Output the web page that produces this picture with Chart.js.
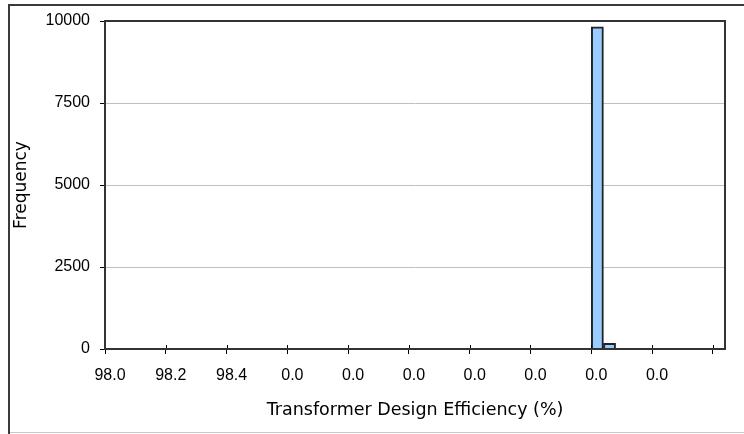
<!DOCTYPE html>
<html>
<head>
<meta charset="utf-8">
<script src="https://cdn.jsdelivr.net/npm/chart.js@4"></script>
<style>
  html, body { margin: 0; padding: 0; background: #fff; }
  canvas { display: block; }
</style>
</head>
<body>
<canvas id="histChart" width="744" height="434"></canvas>
<script>
// histogram bins (centre of each 0.04 wide bin) and their counts
const binCenters = [99.62, 99.66];
const frequencies = [9825, 175];

// x axis ticks and the labels Excel printed under them
const tickValues = [98.0, 98.2, 98.4, 98.6, 98.8, 99.0, 99.2, 99.4, 99.6, 99.8, 100.0];
const tickLabels = ['98.0', '98.2', '98.4', '0.0', '0.0', '0.0', '0.0', '0.0', '0.0', '0.0', ''];

const yTicks = [0, 2500, 5000, 7500, 10000];

const frames = {
    id: 'frames',
    beforeDraw(chart) {
        const ctx = chart.ctx;
        ctx.save();
        ctx.fillStyle = '#3a3a3a';
        ctx.fillRect(8, 4, chart.width - 8, 2);
        ctx.fillRect(8, 4, 2, chart.height - 4);
        ctx.fillStyle = '#c8c8c8';
        ctx.fillRect(10, chart.height - 2, chart.width - 10, 1);
        ctx.restore();
    },
    afterDraw(chart) {
        const ctx = chart.ctx;
        const area = chart.chartArea;
        const xScale = chart.scales.x;
        ctx.save();
        // tick marks poke into the plot a little
        ctx.strokeStyle = '#000';
        ctx.lineWidth = 1;
        xScale.ticks.forEach((t, i) => {
            const px = Math.round(xScale.getPixelForTick(i)) + 0.5;
            ctx.beginPath();
            ctx.moveTo(px, area.bottom - 4);
            ctx.lineTo(px, area.bottom);
            ctx.stroke();
        });
        ctx.strokeStyle = '#333';
        ctx.lineWidth = 2;
        ctx.strokeRect(area.left, area.top, area.right - area.left, area.bottom - area.top);
        ctx.restore();
    }
};

const ctx = document.getElementById('histChart').getContext('2d');
new Chart(ctx, {
    type: 'bar',
    data: {
        datasets: [{
            label: 'Frequency',
            data: binCenters.map((x, i) => ({ x: x, y: frequencies[i] })),
            backgroundColor: '#99ccff',
            borderColor: '#222',
            borderWidth: 2,
            barPercentage: 1,
            categoryPercentage: 1
        }]
    },
    options: {
        responsive: false,
        animation: false,
        devicePixelRatio: 1,
        layout: { padding: { left: 0, top: 21, right: 19, bottom: 0 } },
        plugins: {
            legend: { display: false },
            tooltip: { enabled: false }
        },
        scales: {
            x: {
                type: 'linear',
                offset: false,
                min: 98.0,
                max: 100.04,
                afterBuildTicks: scale => {
                    scale.ticks = tickValues.map(v => ({ value: v }));
                },
                afterFit: scale => { scale.height = 85; },
                grid: {
                    drawOnChartArea: false,
                    tickLength: 5,
                    tickColor: '#000',
                    offset: false
                },
                border: { color: '#000', width: 2 },
                ticks: {
                    autoSkip: false,
                    maxRotation: 0,
                    padding: 12,
                    labelOffset: 5,
                    color: '#000',
                    font: { family: 'Liberation Sans', size: 16 },
                    callback: (value, index) => tickLabels[index]
                },
                title: {
                    display: true,
                    text: 'Transformer Design Efficiency (%)',
                    color: '#000',
                    font: { family: 'DejaVu Sans', size: 17.5 },
                    padding: { top: 0, bottom: 13 }
                }
            },
            y: {
                min: 0,
                max: 10000,
                afterBuildTicks: scale => {
                    scale.ticks = yTicks.map(v => ({ value: v }));
                },
                afterFit: scale => { scale.width = 105; },
                grid: {
                    color: '#c0c0c0',
                    tickColor: '#000',
                    tickLength: 5
                },
                border: { color: '#000', width: 2 },
                ticks: {
                    padding: 10,
                    color: '#000',
                    font: { family: 'Liberation Sans', size: 16 },
                    callback: value => String(value)
                },
                title: {
                    display: true,
                    text: 'Frequency',
                    color: '#000',
                    font: { family: 'DejaVu Sans', size: 17 },
                    padding: { top: 11, bottom: 0 }
                }
            }
        }
    },
    plugins: [frames]
});
</script>
</body>
</html>
